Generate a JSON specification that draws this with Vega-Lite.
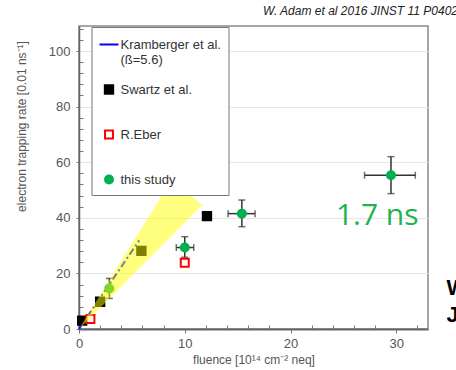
{
  "$schema": "https://vega.github.io/schema/vega-lite/v6.json",
  "width": 349,
  "height": 303,
  "autosize": {"type": "none"},
  "padding": {"left": 79, "top": 26, "right": 28, "bottom": 41},
  "background": "white",
  "config": {
    "view": {"stroke": "#888", "strokeWidth": 1.5},
    "font": "Liberation Sans",
    "axis": {"labelOverlap": false, "labelFlush": false},
    "legend": {
      "title": null, "orient": "none", "legendX": 12.5, "legendY": 1,
      "strokeColor": "#777", "fillColor": "white", "padding": 7,
      "labelFontSize": 13, "labelColor": "#333", "labelOffset": 1, "labelFont": "Liberation Sans",
      "rowPadding": 14, "symbolStrokeWidth": 2, "symbolDash": []
    }
  },
  "title": {
    "text": "W. Adam et al 2016 JINST 11 P04023",
    "anchor": "start",
    "frame": "group",
    "dx": 184,
    "dy": 15,
    "offset": 11,
    "baseline": "alphabetic",
    "fontSize": 12,
    "fontStyle": "italic",
    "fontWeight": "normal",
    "color": "#222"
  },
  "datasets": {
    "kram": [
      {"series": "Kramberger et al. (ß=5.6)", "fluence": 0, "rate": 0},
      {"series": "Kramberger et al. (ß=5.6)", "fluence": 5.7, "rate": 31.9}
    ],
    "pts": [
      {"series": "Swartz et al.", "fluence": 0.3, "rate": 3.0},
      {"series": "Swartz et al.", "fluence": 2.0, "rate": 9.8},
      {"series": "Swartz et al.", "fluence": 5.9, "rate": 28.1},
      {"series": "Swartz et al.", "fluence": 12.1, "rate": 40.6},
      {"series": "R.Eber", "fluence": 1.08, "rate": 3.6},
      {"series": "R.Eber", "fluence": 10.0, "rate": 23.8},
      {"series": "this study", "fluence": 2.87, "rate": 14.6},
      {"series": "this study", "fluence": 10.0, "rate": 29.3},
      {"series": "this study", "fluence": 15.4, "rate": 41.5},
      {"series": "this study", "fluence": 29.5, "rate": 55.3}
    ],
    "green": [
      {"fluence": 2.87, "rate": 14.6, "fluence_lo": 2.7, "fluence_hi": 3.05, "rate_lo": 11.0, "rate_hi": 18.2},
      {"fluence": 10.0, "rate": 29.3, "fluence_lo": 9.2, "fluence_hi": 10.85, "rate_lo": 25.8, "rate_hi": 33.2},
      {"fluence": 15.4, "rate": 41.5, "fluence_lo": 14.1, "fluence_hi": 16.65, "rate_lo": 36.8, "rate_hi": 46.4},
      {"fluence": 29.5, "rate": 55.3, "fluence_lo": 27.0, "fluence_hi": 31.8, "rate_lo": 48.7, "rate_hi": 62.0}
    ],
    "band": [
      {"fluence": 0, "rate": 0, "rate2": 0},
      {"fluence": 8.74, "rate": 53.6, "rate2": 33.4},
      {"fluence": 11.67, "rate": 44.6, "rate2": 44.6}
    ]
  },
  "layer": [
    {
      "data": {"name": "kram"},
      "mark": {"type": "line", "strokeWidth": 2, "strokeDash": [7, 3, 2, 3]},
      "encoding": {
        "x": {
          "field": "fluence", "type": "quantitative",
          "title": "fluence [10¹⁴ cm⁻² neq]",
          "scale": {"domain": [0, 33], "nice": false, "zero": false},
          "axis": {
            "values": [0, 2, 4, 6, 8, 10, 12, 14, 16, 18, 20, 22, 24, 26, 28, 30, 32],
            "tickCount": 100,
            "format": "d",
            "labelExpr": "datum.value % 10 === 0 ? datum.label : ''",
            "labelOverlap": false,
            "tickSize": {"condition": {"test": "datum.value % 10 === 0", "value": 4}, "value": -4},
            "grid": false,
            "domainColor": "#666", "domainWidth": 2,
            "tickColor": "#777", "tickWidth": 1,
            "labelColor": "#555", "labelFontSize": 13, "labelPadding": 4,
            "titleColor": "#555", "titleFontSize": 12, "titleFontWeight": "normal", "titlePadding": 4
          }
        },
        "y": {
          "field": "rate", "type": "quantitative",
          "title": "electron trapping rate [0.01 ns⁻¹]",
          "scale": {"domain": [0, 109], "nice": false, "zero": false},
          "axis": {
            "values": [0, 4, 8, 12, 16, 20, 24, 28, 32, 36, 40, 44, 48, 52, 56, 60, 64, 68, 72, 76, 80, 84, 88, 92, 96, 100, 104, 108],
            "tickCount": 100,
            "format": "d",
            "labelExpr": "datum.value % 20 === 0 ? datum.label : ''",
            "labelOverlap": false,
            "tickSize": {"condition": {"test": "datum.value % 20 === 0", "value": 3}, "value": -4},
            "grid": true,
            "gridColor": "#e6e6e6",
            "gridOpacity": {"condition": {"test": "datum.value % 20 === 0 && datum.value > 0", "value": 1}, "value": 0},
            "domainColor": "#666", "domainWidth": 1.5,
            "tickColor": "#777", "tickWidth": 1,
            "labelColor": "#555", "labelFontSize": 13, "labelPadding": 6,
            "titleColor": "#555", "titleFontSize": 12, "titleFontWeight": "normal",
            "titleX": -54, "titleY": 100, "titleAlign": "center", "titleBaseline": "alphabetic", "titleAngle": -90
          }
        },
        "stroke": {
          "field": "series", "type": "nominal",
          "scale": {"domain": ["Kramberger et al. (ß=5.6)", "Swartz et al.", "R.Eber", "this study"], "range": ["#0000ff", "#000000", "#ff0000", "#00b050"]},
          "legend": {
            "labelExpr": "datum.label === 'Kramberger et al. (ß=5.6)' ? ['Kramberger et al.', '(ß=5.6)'] : datum.label === 'this study' ? datum.label : [datum.label, ' ']"
          }
        }
      }
    },
    {
      "data": {"name": "green"},
      "mark": {"type": "errorbar", "ticks": {"size": 7, "thickness": 1.5, "color": "#333"}, "rule": {"strokeWidth": 1.5, "color": "#333"}},
      "encoding": {
        "x": {"field": "fluence", "type": "quantitative", "title": "fluence [10¹⁴ cm⁻² neq]"},
        "y": {"field": "rate_lo", "type": "quantitative", "title": "electron trapping rate [0.01 ns⁻¹]"},
        "y2": {"field": "rate_hi"}
      }
    },
    {
      "data": {"name": "green"},
      "mark": {"type": "errorbar", "ticks": {"size": 7, "thickness": 1.5, "color": "#333"}, "rule": {"strokeWidth": 1.5, "color": "#333"}},
      "encoding": {
        "y": {"field": "rate", "type": "quantitative", "title": "electron trapping rate [0.01 ns⁻¹]"},
        "x": {"field": "fluence_lo", "type": "quantitative", "title": "fluence [10¹⁴ cm⁻² neq]"},
        "x2": {"field": "fluence_hi"}
      }
    },
    {
      "data": {"name": "pts"},
      "mark": {"type": "point", "filled": true, "strokeWidth": 2, "opacity": 1},
      "encoding": {
        "x": {"field": "fluence", "type": "quantitative", "title": "fluence [10¹⁴ cm⁻² neq]"},
        "y": {"field": "rate", "type": "quantitative", "title": "electron trapping rate [0.01 ns⁻¹]"},
        "stroke": {
          "field": "series", "type": "nominal",
          "legend": {
            "labelExpr": "datum.label === 'Kramberger et al. (ß=5.6)' ? ['Kramberger et al.', '(ß=5.6)'] : datum.label === 'this study' ? datum.label : [datum.label, ' ']"
          }
        },
        "fill": {
          "field": "series", "type": "nominal",
          "scale": {"domain": ["Kramberger et al. (ß=5.6)", "Swartz et al.", "R.Eber", "this study"], "range": ["#0000ff", "#000000", "#ffffff", "#00b050"]},
          "legend": {
            "labelExpr": "datum.label === 'Kramberger et al. (ß=5.6)' ? ['Kramberger et al.', '(ß=5.6)'] : datum.label === 'this study' ? datum.label : [datum.label, ' ']"
          }
        },
        "shape": {
          "field": "series", "type": "nominal",
          "scale": {"domain": ["Kramberger et al. (ß=5.6)", "Swartz et al.", "R.Eber", "this study"], "range": ["stroke", "square", "square", "circle"]},
          "legend": {
            "labelExpr": "datum.label === 'Kramberger et al. (ß=5.6)' ? ['Kramberger et al.', '(ß=5.6)'] : datum.label === 'this study' ? datum.label : [datum.label, ' ']"
          }
        },
        "size": {
          "field": "series", "type": "nominal",
          "scale": {"type": "ordinal", "domain": ["Kramberger et al. (ß=5.6)", "Swartz et al.", "R.Eber", "this study"], "range": [361, 70, 64, 64]},
          "legend": {
            "labelExpr": "datum.label === 'Kramberger et al. (ß=5.6)' ? ['Kramberger et al.', '(ß=5.6)'] : datum.label === 'this study' ? datum.label : [datum.label, ' ']"
          }
        }
      }
    },
    {
      "data": {"name": "band"},
      "mark": {"type": "area", "color": "#ffff00", "opacity": 0.5},
      "encoding": {
        "x": {"field": "fluence", "type": "quantitative", "title": "fluence [10¹⁴ cm⁻² neq]"},
        "y": {"field": "rate", "type": "quantitative", "title": "electron trapping rate [0.01 ns⁻¹]"},
        "y2": {"field": "rate2"}
      }
    },
    {
      "data": {"values": [{"note": "1.7 ns", "fluence": 28.2, "rate": 37.4}]},
      "mark": {"type": "text", "align": "center", "baseline": "alphabetic", "fontSize": 30, "color": "#1db34a", "font": "Open Sans"},
      "encoding": {
        "x": {"field": "fluence", "type": "quantitative", "title": "fluence [10¹⁴ cm⁻² neq]"},
        "y": {"field": "rate", "type": "quantitative", "title": "electron trapping rate [0.01 ns⁻¹]"},
        "text": {"field": "note"}
      }
    },
    {
      "data": {"values": [{"note": "W", "fluence": 34.76, "rate": 12.2}, {"note": "J", "fluence": 34.76, "rate": 2.5}]},
      "mark": {"type": "text", "align": "left", "baseline": "alphabetic", "fontSize": 22, "fontWeight": "bold", "color": "#000"},
      "encoding": {
        "x": {"field": "fluence", "type": "quantitative", "title": "fluence [10¹⁴ cm⁻² neq]"},
        "y": {"field": "rate", "type": "quantitative", "title": "electron trapping rate [0.01 ns⁻¹]"},
        "text": {"field": "note"}
      }
    }
  ]
}
